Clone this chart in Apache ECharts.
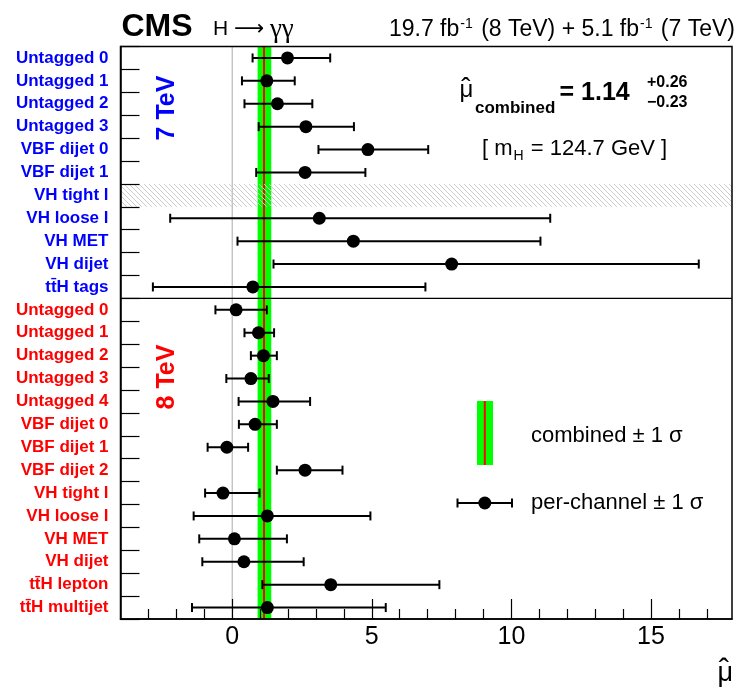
<!DOCTYPE html>
<html><head><meta charset="utf-8">
<script src="https://cdn.jsdelivr.net/npm/echarts@6/dist/echarts.min.js"></script>
<style>html,body{margin:0;padding:0;background:#fff}#c{width:736px;height:689px}</style>
</head><body><div id="c"></div>
<script>
// ---- data ----
const categories7 = ['Untagged 0','Untagged 1','Untagged 2','Untagged 3','VBF dijet 0','VBF dijet 1','VH tight l','VH loose l','VH MET','VH dijet','tt\u0304H tags'];
const mu7 = [1.98, 1.24, 1.62, 2.64, 4.86, 2.61, null, 3.12, 4.34, 7.86, 0.74];
const lo7 = [0.73, 0.35, 0.44, 0.95, 3.09, 0.86, null, -2.22, 0.19, 1.48, -2.84];
const hi7 = [3.51, 2.24, 2.87, 4.36, 7.02, 4.77, null, 11.39, 11.04, 16.71, 6.92];

const categories8 = ['Untagged 0','Untagged 1','Untagged 2','Untagged 3','Untagged 4','VBF dijet 0','VBF dijet 1','VBF dijet 2','VH tight l','VH loose l','VH MET','VH dijet','tt\u0304H lepton','tt\u0304H multijet'];
const mu8 = [0.14, 0.94, 1.12, 0.67, 1.46, 0.82, -0.19, 2.61, -0.33, 1.26, 0.08, 0.42, 3.53, 1.26];
const lo8 = [-0.60, 0.44, 0.67, -0.21, 0.23, 0.24, -0.88, 1.60, -0.97, -1.38, -1.18, -1.07, 1.08, -1.44];
const hi8 = [1.24, 1.50, 1.60, 1.31, 2.79, 1.60, 0.57, 3.95, 0.98, 4.95, 1.96, 2.56, 7.42, 5.50];

const combinedMu = 1.14;
const combinedUp = 0.26;
const combinedDown = 0.23;
const hatchedCategory = '7|VH tight l';

const xMajorTicks = [0, 5, 10, 15];
const xMinorTicks = [-3, -2, -1, 1, 2, 3, 4, 6, 7, 8, 9, 11, 12, 13, 14, 16, 17];

// ---- build ----
const FONT = '"Liberation Sans", Arial, Helvetica, sans-serif';
const SERIF = '"Liberation Serif", "DejaVu Serif", serif';
const BLUE = '#0000ff', RED = '#ff0000';
const cats = categories7.map(c => '7|' + c).concat(categories8.map(c => '8|' + c));
const mu = mu7.concat(mu8), lo = lo7.concat(lo8), hi = hi7.concat(hi8);
const pointData = [], errData = [];
mu.forEach((v, i) => { if (v != null) { pointData.push([v, i]); errData.push([i, lo[i], hi[i]]); } });
const hatchIdx = cats.indexOf(hatchedCategory);
const sepIdx = categories7.length - 1;

const hatch = document.createElement('canvas');
hatch.width = 5; hatch.height = 5;
const hg = hatch.getContext('2d');
hg.fillStyle = '#cccccc';
for (let i = 0; i < 5; i++) hg.fillRect(i, i, 1, 1);

const chart = echarts.init(document.getElementById('c'), null, {renderer: 'canvas'});
const option = {
  animation: false,
  backgroundColor: '#fff',
  grid: {left: 120.5, right: 4, top: 46.5, bottom: 70, show: true, z: 20,
         backgroundColor: 'transparent', borderColor: '#000', borderWidth: 1.5},
  xAxis: [
    {type: 'value', min: -4, max: 17.9, position: 'bottom', z: 21,
     axisLine: {show: true, onZero: false, lineStyle: {color: '#000', width: 1.5}},
     axisTick: {show: true, inside: true, length: 10, customValues: xMinorTicks, lineStyle: {color: '#000', width: 1.2}},
     axisLabel: {show: false, customValues: xMinorTicks},
     splitLine: {show: false}},
    {type: 'value', min: -4, max: 17.9, position: 'bottom', z: 21,
     axisLine: {show: false, onZero: false},
     axisTick: {show: true, inside: true, length: 20, customValues: xMajorTicks, lineStyle: {color: '#000', width: 1.2}},
     axisLabel: {show: true, customValues: xMajorTicks, margin: 6, color: '#000', fontSize: 25, fontFamily: FONT},
     splitLine: {show: false}}
  ],
  yAxis: {
    type: 'category', data: cats, inverse: true, z: 21,
    axisLine: {show: true, onZero: false, lineStyle: {color: '#000', width: 1.5}},
    axisTick: {show: true, inside: true, length: 19, lineStyle: {color: '#000', width: 1.2}},
    axisLabel: {interval: 0, margin: 12,
      formatter: v => (v.startsWith('7|') ? '{b|' : '{r|') + v.slice(2) + '}',
      rich: {b: {color: BLUE, fontSize: 17, fontWeight: 'bold', fontFamily: FONT},
             r: {color: RED, fontSize: 17, fontWeight: 'bold', fontFamily: FONT}}},
    splitLine: {show: false}
  },
  series: [
    {type: 'custom', z: 1, silent: true, xAxisIndex: 0,
     data: [[combinedMu - combinedDown, combinedMu + combinedUp, combinedMu, 0]],
     encode: {x: [0, 1, 2, 3]},
     renderItem(params, api) {
       const cs = params.coordSys;
       const x0 = api.coord([api.value(0), 0])[0];
       const x1 = api.coord([api.value(1), 0])[0];
       const xm = api.coord([api.value(2), 0])[0];
       const xz = api.coord([api.value(3), 0])[0];
       return {type: 'group', children: [
         {type: 'line', shape: {x1: xz, y1: cs.y, x2: xz, y2: cs.y + cs.height}, style: {stroke: '#aaaaaa', lineWidth: 1}},
         {type: 'rect', shape: {x: x0, y: cs.y, width: x1 - x0, height: cs.height}, style: {fill: '#00ff00'}},
         {type: 'line', shape: {x1: xm, y1: cs.y, x2: xm, y2: cs.y + cs.height}, style: {stroke: RED, lineWidth: 2}}
       ]};
     }},
    {type: 'custom', z: 2, silent: true, xAxisIndex: 0,
     data: [[hatchIdx]], encode: {y: 0},
     renderItem(params, api) {
       const cs = params.coordSys;
       const h = api.size([0, 1])[1];
       const yc = api.coord([0, api.value(0)])[1];
       return {type: 'rect', shape: {x: cs.x, y: yc - h / 2, width: cs.width, height: h},
               style: {fill: {image: hatch, repeat: 'repeat'}}};
     }},
    {type: 'custom', z: 3, silent: true, xAxisIndex: 0,
     data: [[sepIdx]], encode: {y: 0},
     renderItem(params, api) {
       const cs = params.coordSys;
       const h = api.size([0, 1])[1];
       const y = api.coord([0, api.value(0)])[1] + h / 2;
       return {type: 'line', shape: {x1: cs.x, y1: y, x2: cs.x + cs.width, y2: y}, style: {stroke: '#000', lineWidth: 1.2}};
     }},
    {type: 'custom', z: 4, silent: true, xAxisIndex: 0,
     data: errData, encode: {x: [1, 2], y: 0},
     renderItem(params, api) {
       const idx = api.value(0);
       const p1 = api.coord([api.value(1), idx]);
       const p2 = api.coord([api.value(2), idx]);
       const y = p1[1], c = 4.5;
       const st = {stroke: '#000', lineWidth: 2};
       return {type: 'group', children: [
         {type: 'line', shape: {x1: p1[0], y1: y, x2: p2[0], y2: y}, style: st},
         {type: 'line', shape: {x1: p1[0], y1: y - c, x2: p1[0], y2: y + c}, style: st},
         {type: 'line', shape: {x1: p2[0], y1: y - c, x2: p2[0], y2: y + c}, style: st}
       ]};
     }},
    {type: 'scatter', z: 5, silent: true, xAxisIndex: 0, data: pointData,
     symbol: 'circle', symbolSize: 13, itemStyle: {color: '#000', opacity: 1}}
  ],
  graphic: [
    {type: 'text', x: 121.5, y: 27.5, style: {text: 'CMS', font: 'bold 32px ' + FONT, fill: '#000', verticalAlign: 'middle'}},
    {type: 'text', x: 213, y: 29.5, style: {text: '{h|H} {a|\u27f6} {g|\u03b3\u03b3}', font: '21px ' + FONT, fill: '#000', verticalAlign: 'middle',
      rich: {h: {fontSize: 21, fontFamily: FONT}, a: {fontSize: 21, fontFamily: '"DejaVu Sans", sans-serif'}, g: {fontSize: 27, fontFamily: SERIF}}}},
    {type: 'text', x: 735, y: 29.5, style: {text: '19.7 fb{s|-1} (8 TeV) + 5.1 fb{s|-1} (7 TeV)', font: '23px ' + FONT, fill: '#000',
      align: 'right', verticalAlign: 'middle', rich: {s: {fontSize: 14, fontFamily: FONT, padding: [0, 2, 11, 1]}}}},
    {type: 'text', x: 459.5, y: 90.5, style: {text: '\u03bc', font: '24px ' + FONT, fill: '#000', verticalAlign: 'middle'}},
    {type: 'text', x: 466, y: 89, style: {text: '\u02c6', font: '28px ' + FONT, fill: '#000', align: 'center', verticalAlign: 'middle'}},
    {type: 'text', x: 475, y: 108, style: {text: 'combined', font: 'bold 17px ' + FONT, fill: '#000', verticalAlign: 'middle'}},
    {type: 'text', x: 559.5, y: 93, style: {text: '= 1.14', font: 'bold 25px ' + FONT, fill: '#000', verticalAlign: 'middle'}},
    {type: 'text', x: 647, y: 82.5, style: {text: '+0.26', font: 'bold 16px ' + FONT, fill: '#000', verticalAlign: 'middle'}},
    {type: 'text', x: 647, y: 102.5, style: {text: '\u22120.23', font: 'bold 16px ' + FONT, fill: '#000', verticalAlign: 'middle'}},
    {type: 'text', x: 482, y: 149, style: {text: '[ m{s|H} = 124.7 GeV ]', font: '22px ' + FONT, fill: '#000', verticalAlign: 'middle',
      rich: {s: {fontSize: 14, fontFamily: FONT, padding: [15, 1, 0, 1]}}}},
    {type: 'text', x: 167.5, y: 108, rotation: Math.PI / 2, style: {text: '7 TeV', font: 'bold 25px ' + FONT, fill: BLUE, align: 'center', verticalAlign: 'middle'}},
    {type: 'text', x: 167.5, y: 377, rotation: Math.PI / 2, style: {text: '8 TeV', font: 'bold 25px ' + FONT, fill: RED, align: 'center', verticalAlign: 'middle'}},
    // legend
    {type: 'rect', shape: {x: 477, y: 401, width: 16, height: 64}, style: {fill: '#00ff00'}, z: 30},
    {type: 'line', shape: {x1: 484.8, y1: 401, x2: 484.8, y2: 465}, style: {stroke: RED, lineWidth: 2}, z: 31},
    {type: 'text', x: 531, y: 435.5, style: {text: 'combined \u00b1 1 \u03c3', font: '22px ' + FONT, fill: '#000', verticalAlign: 'middle'}},
    {type: 'line', shape: {x1: 457.5, y1: 503, x2: 512, y2: 503}, style: {stroke: '#000', lineWidth: 2}, z: 30},
    {type: 'line', shape: {x1: 457.5, y1: 498.5, x2: 457.5, y2: 507.5}, style: {stroke: '#000', lineWidth: 2}, z: 30},
    {type: 'line', shape: {x1: 512, y1: 498.5, x2: 512, y2: 507.5}, style: {stroke: '#000', lineWidth: 2}, z: 30},
    {type: 'circle', shape: {cx: 484.8, cy: 503, r: 6.5}, style: {fill: '#000'}, z: 31},
    {type: 'text', x: 531, y: 502.5, style: {text: 'per-channel \u00b1 1 \u03c3', font: '22px ' + FONT, fill: '#000', verticalAlign: 'middle'}},
    // axis title
    {type: 'text', x: 733, y: 674, style: {text: '\u03bc', font: '27px ' + FONT, fill: '#000', align: 'right', verticalAlign: 'middle'}},
    {type: 'text', x: 724, y: 672, style: {text: '\u02c6', font: '31px ' + FONT, fill: '#000', align: 'center', verticalAlign: 'middle'}}
  ]
};
chart.setOption(option);
</script>
</body></html>
